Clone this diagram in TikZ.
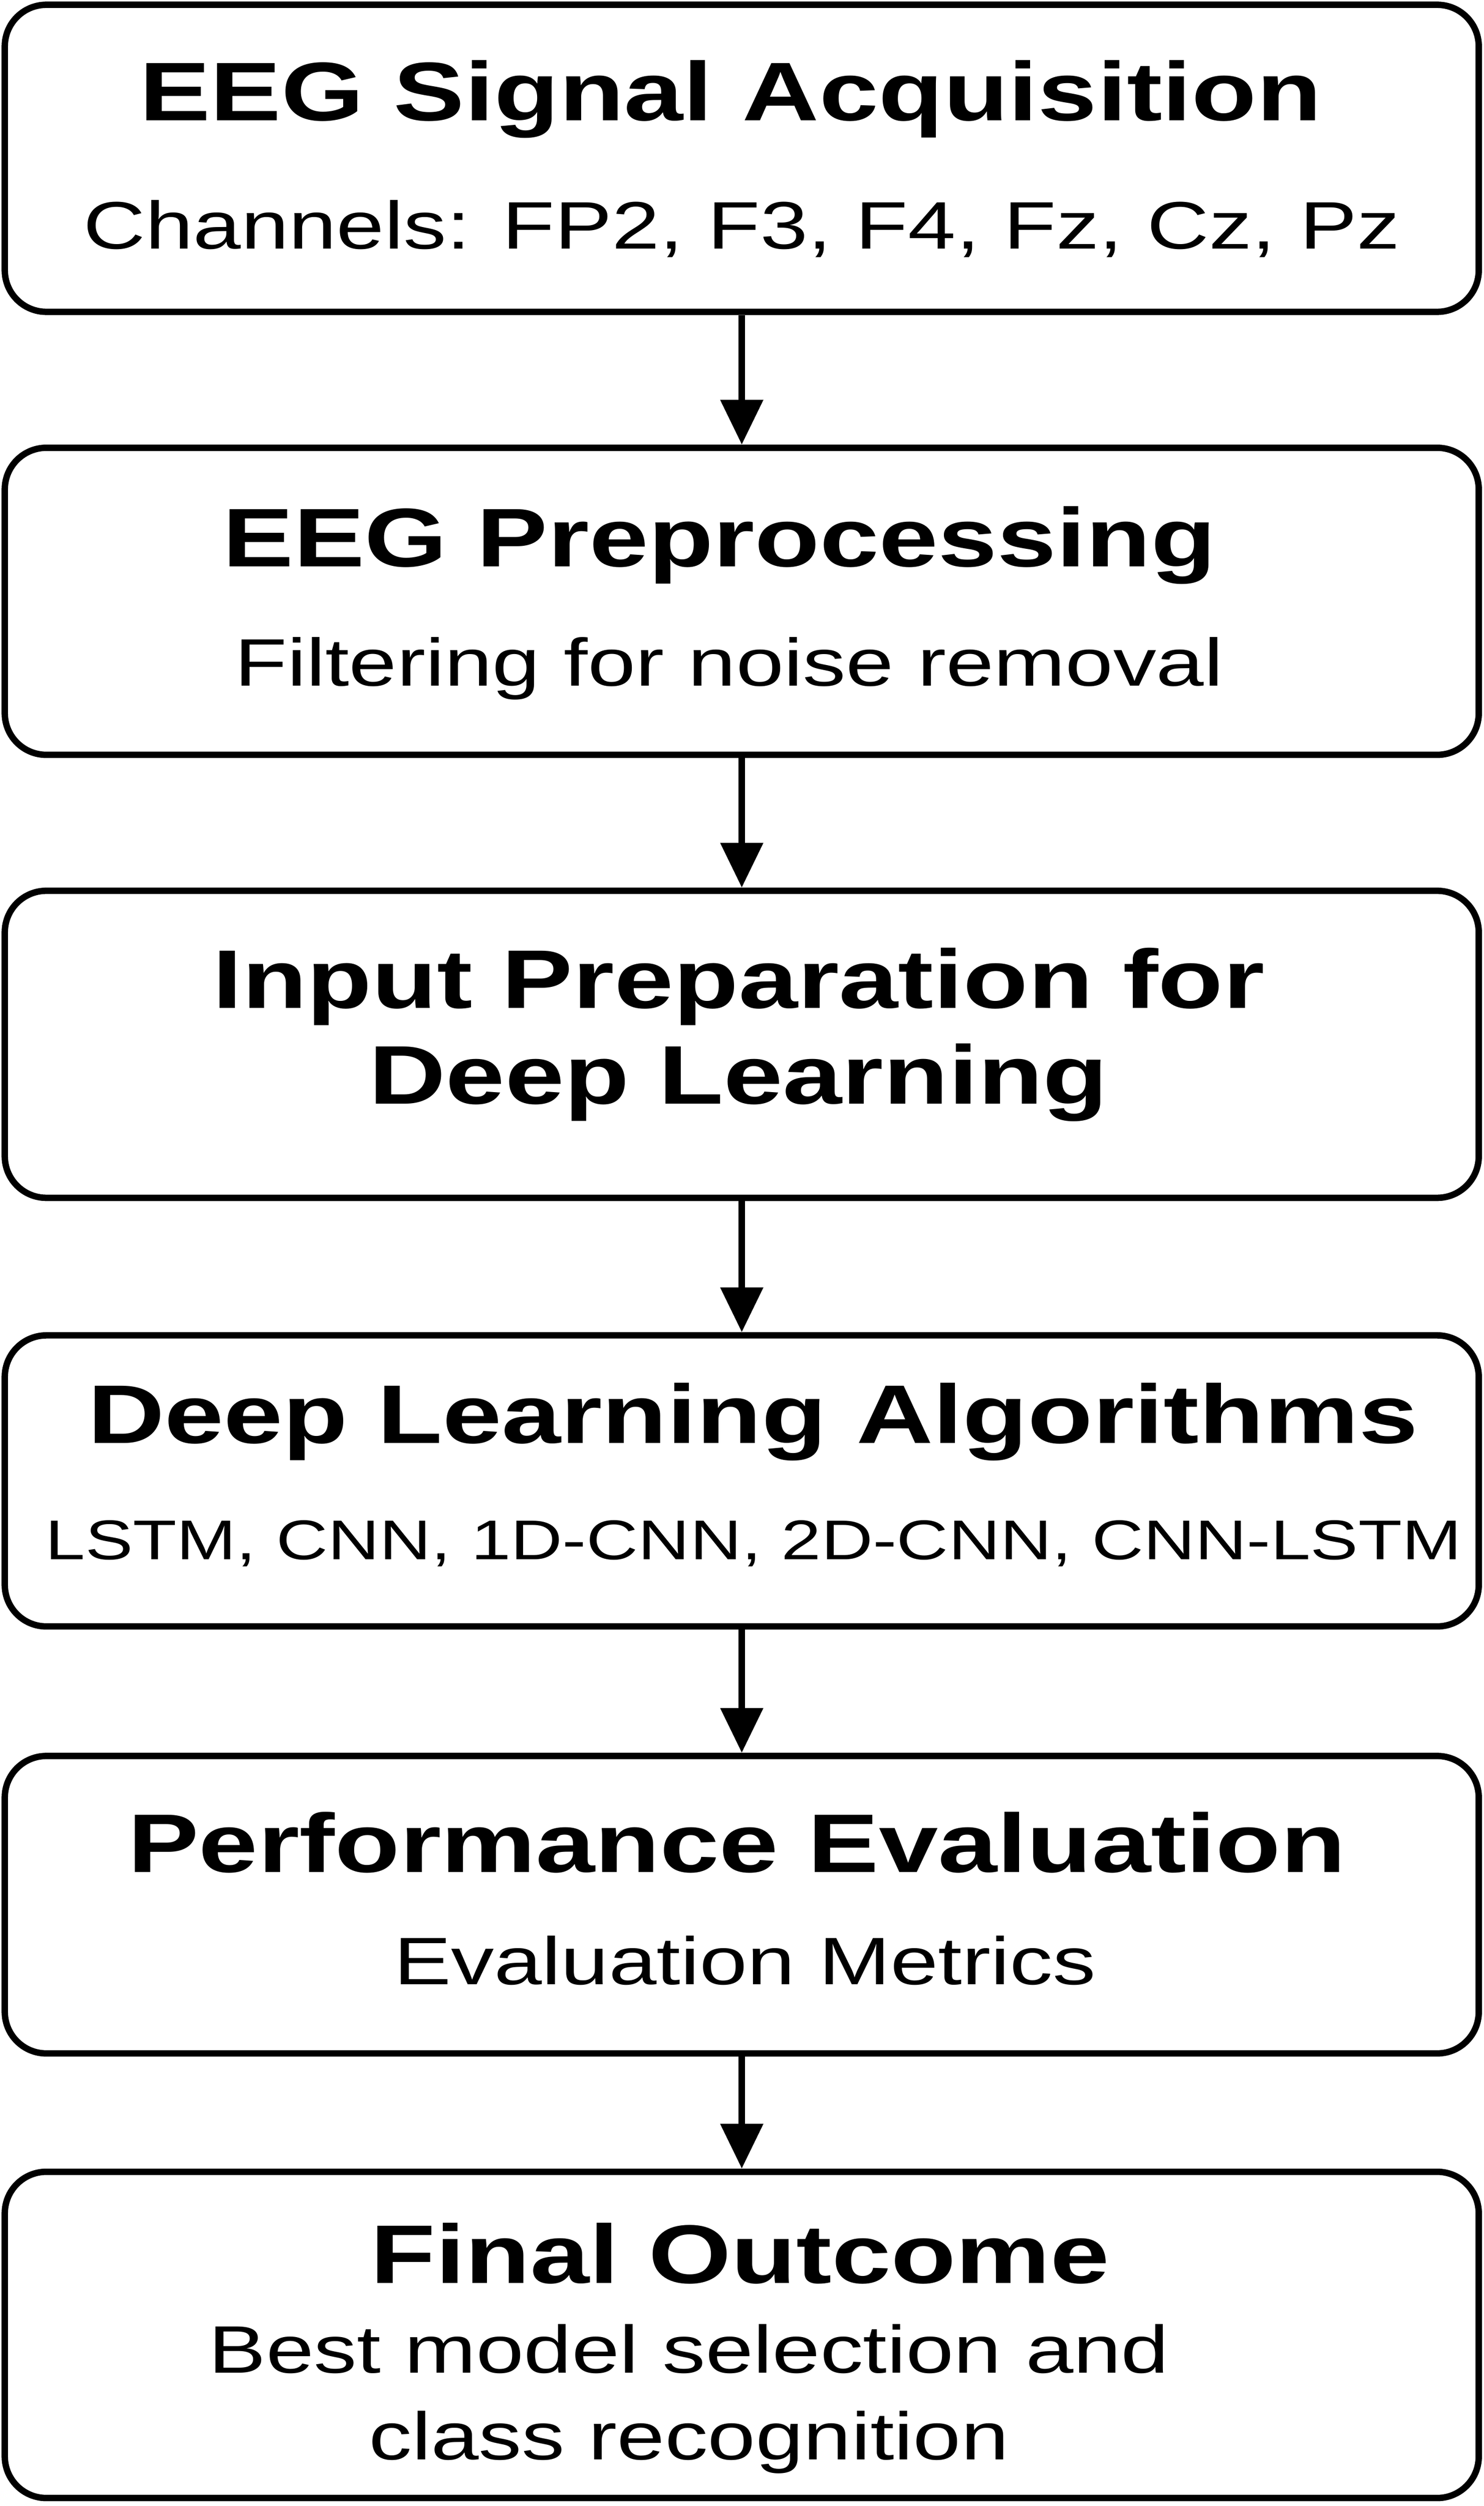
\documentclass[tikz,border=0pt]{standalone}
\usepackage{fontspec}
\setmainfont[FakeStretch=1.28]{Liberation Sans}
\usetikzlibrary{arrows.meta}
\tikzset{
  stage/.style={draw, line width=2pt, rounded corners=13pt, minimum width=461pt, inner sep=0pt},
  head/.style={font=\fontsize{26}{30}\selectfont\bfseries, align=center, inner sep=0pt},
  sub/.style={font=\fontsize{21}{27}\selectfont, align=center, inner sep=0pt},
  flow/.style={line width=2pt, -{Triangle[length=14pt,width=13pt]}}
}
\begin{document}
\begin{tikzpicture}[x=0.5pt,y=0.5pt,yscale=-1]
\useasboundingbox (0,0) rectangle (928,1567);

% stages
\node[stage, minimum height=96pt] (acq) at (464,99) {};
\node[stage, minimum height=96pt] (pre) at (464,376) {};
\node[stage, minimum height=96pt] (inp) at (464,653) {};
\node[stage, minimum height=91pt] (dl) at (464,926) {};
\node[stage, minimum height=93pt] (perf) at (464,1191) {};
\node[stage, minimum height=102pt] (out) at (464,1460) {};

% texts
\node[head] (acqh) at (457,62) {EEG Signal Acquisition};
\node[sub] (acqs) at (464,143) {Channels: FP2, F3, F4, Fz, Cz, Pz};
\node[head] (preh) at (450,341) {EEG Preprocessing};
\node[sub] (pres) at (456,418) {Filtering for noise removal};
\node[head] (inph) at (462,647) {Input Preparation for\\Deep Learning};
\node[head] (dlh) at (471,889) {Deep Learning Algorithms};
\node[sub, anchor=west, font=\fontsize{17.5}{22}\selectfont] (dls) at (28,965) {LSTM, CNN, 1D-CNN, 2D-CNN, CNN-LSTM};
\node[head] (perfh) at (461,1152) {Performance Evaluation};
\node[sub] (perfs) at (466,1226) {Evaluation Metrics};
\node[head] (outh) at (463,1409) {Final Outcome};
\node[sub] (outs) at (431,1500) {Best model selection and\\class recognition};

% arrows
\draw[flow] (acq) -- (pre);
\draw[flow] (pre) -- (inp);
\draw[flow] (inp) -- (dl);
\draw[flow] (dl) -- (perf);
\draw[flow] (perf) -- (out);
\end{tikzpicture}
\end{document}
